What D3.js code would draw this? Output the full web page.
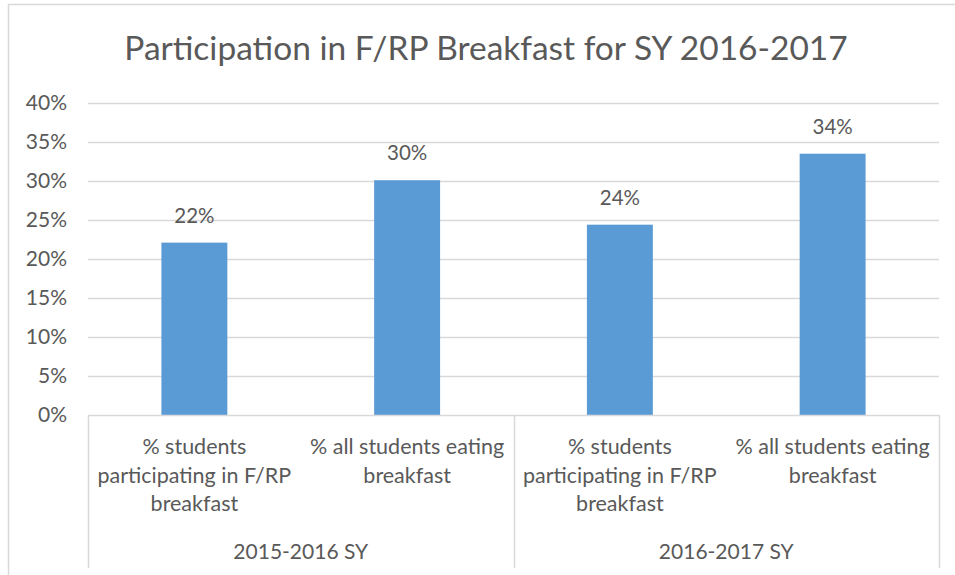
<!DOCTYPE html>
<html>
<head>
<meta charset="utf-8">
<script src="https://cdn.jsdelivr.net/npm/d3@7"></script>
<style>
  html, body { margin: 0; padding: 0; background: #ffffff; }
  svg { display: block; }
  text { font-family: Lato, "Open Sans", sans-serif; fill: #595959; }
</style>
</head>
<body>
<svg id="chart" width="955" height="575"></svg>
<script>
// ---- data ----
const title = "Participation in F/RP Breakfast for SY 2016-2017";
const groups = ["2015-2016 SY", "2016-2017 SY"];
const categories = [
  "% students\nparticipating in F/RP\nbreakfast",
  "% all students eating\nbreakfast",
  "% students\nparticipating in F/RP\nbreakfast",
  "% all students eating\nbreakfast"
];
const categoryGroup = [0, 0, 1, 1];
const values = [0.221, 0.301, 0.244, 0.335];
const valueLabels = ["22%", "30%", "24%", "34%"];
const yTicks = [0, 0.05, 0.10, 0.15, 0.20, 0.25, 0.30, 0.35, 0.40];

// ---- layout ----
const W = 955, H = 575;
const plot = { left: 88, right: 939, top: 103, bottom: 415 };
const barColor = "#5B9BD5";
const gridColor = "#D9D9D9";

const svg = d3.select("#chart");

// outer chart border (extends past right/bottom edges)
svg.append("rect")
  .attr("x", 8.5).attr("y", 4.5)
  .attr("width", W + 20).attr("height", H + 20)
  .attr("fill", "#ffffff")
  .attr("stroke", "#D9D9D9").attr("stroke-width", 1.5);

const idx = categories.map((_, i) => i);
const x = d3.scaleBand().domain(idx).range([plot.left, plot.right])
  .paddingInner(0.69).paddingOuter(0.345);
const y = d3.scaleLinear().domain([0, 0.40]).range([plot.bottom, plot.top]);

// title
svg.append("text")
  .attr("x", 486).attr("y", 60)
  .attr("text-anchor", "middle")
  .style("font-size", "33.5px")
  .text(title);

// gridlines
svg.append("g").selectAll("line").data(yTicks.filter(t => t > 0)).join("line")
  .attr("x1", plot.left).attr("x2", plot.right)
  .attr("y1", d => Math.round(y(d)) + 0.5).attr("y2", d => Math.round(y(d)) + 0.5)
  .attr("stroke", gridColor).attr("stroke-width", 1.5);

// y axis labels
const yAxis = d3.axisLeft(y).tickValues(yTicks).tickFormat(d3.format(".0%")).tickSize(0).tickPadding(21);
const yg = svg.append("g").attr("transform", `translate(${plot.left},0)`).call(yAxis);
yg.select(".domain").remove();
yg.selectAll("text").style("font-size", "21px").style("font-family", "Lato, sans-serif").attr("fill", "#595959");

// bars
svg.append("g").selectAll("rect").data(values).join("rect")
  .attr("x", (d, i) => x(i))
  .attr("width", x.bandwidth())
  .attr("y", d => y(d))
  .attr("height", d => y(0) - y(d))
  .attr("fill", barColor);

// data labels
svg.append("g").selectAll("text").data(values).join("text")
  .attr("x", (d, i) => x(i) + x.bandwidth() / 2)
  .attr("y", d => y(d) - 20)
  .attr("text-anchor", "middle")
  .style("font-size", "20.5px")
  .text((d, i) => valueLabels[i]);

// category axis baseline and separators
const axisColor = "#D9D9D9";
svg.append("line")
  .attr("x1", plot.left).attr("x2", plot.right)
  .attr("y1", plot.bottom + 0.5).attr("y2", plot.bottom + 0.5)
  .attr("stroke", axisColor).attr("stroke-width", 1.5);

const step = x.step();
const groupBounds = groups.map((g, gi) => {
  const members = idx.filter(i => categoryGroup[i] === gi);
  const x0 = x(members[0]) - x.paddingOuter() * step;
  const x1 = x(members[members.length - 1]) + x.bandwidth() + x.paddingOuter() * step;
  return { g, x0, x1 };
});
const seps = [plot.left].concat(groupBounds.map(b => b.x1));
svg.append("g").selectAll("line").data(seps).join("line")
  .attr("x1", d => Math.round(d) + 0.5).attr("x2", d => Math.round(d) + 0.5)
  .attr("y1", plot.bottom).attr("y2", 568)
  .attr("stroke", axisColor).attr("stroke-width", 1.5);

// category labels (multi-line)
const catG = svg.append("g").selectAll("text").data(categories).join("text")
  .attr("text-anchor", "middle")
  .style("font-size", "21.5px");
catG.each(function(d, i) {
  const t = d3.select(this);
  d.split("\n").forEach((line, li) => {
    t.append("tspan")
      .attr("x", x(i) + x.bandwidth() / 2)
      .attr("y", 454 + li * 28.5)
      .text(line);
  });
});

// group labels
svg.append("g").selectAll("text").data(groupBounds).join("text")
  .attr("x", d => (d.x0 + d.x1) / 2)
  .attr("y", 559)
  .attr("text-anchor", "middle")
  .style("font-size", "21px")
  .text(d => d.g);
</script>
</body>
</html>
